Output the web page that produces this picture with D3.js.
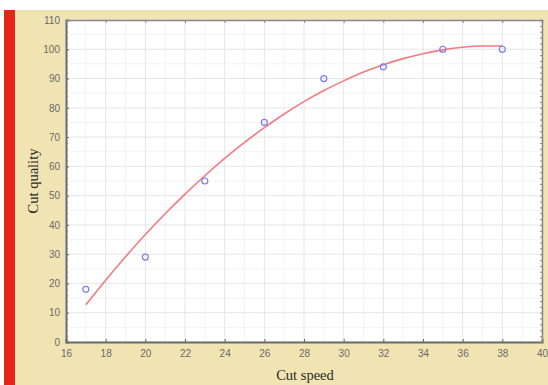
<!DOCTYPE html>
<html><head><meta charset="utf-8">
<script src="https://cdn.jsdelivr.net/npm/d3@7"></script>
<style>body{margin:0;background:#fff}svg{display:block}</style>
</head><body>
<svg id="c" width="548" height="385"></svg>
<script>
const speed = [17, 20, 23, 26, 29, 32, 35, 38];
const quality = [18, 29, 55, 75, 90, 94, 100, 100];
const fitX = [17,18,19,20,21,22,23,24,25,26,27,28,29,30,31,32,33,34,35,36,37,38];
const fitY = [12.7,21.1,29.1,36.7,43.8,50.5,56.8,62.7,68.2,73.2,77.9,82.1,85.9,89.2,92.2,94.7,96.8,98.5,99.8,100.7,101.1,101.1];
const xTicks = [16,18,20,22,24,26,28,30,32,34,36,38,40];
const yTicks = [0,10,20,30,40,50,60,70,80,90,100,110];

const svg = d3.select("#c");
svg.append("rect").attr("x",15).attr("y",10).attr("width",533).attr("height",375).attr("fill","#f1e4b3");
svg.append("rect").attr("x",4).attr("y",10).attr("width",11).attr("height",375).attr("fill","#ea2317");

const L=66,R=542,T=20,B=342;
const x = d3.scaleLinear().domain([16,40]).range([L,R]);
const y = d3.scaleLinear().domain([0,110]).range([B,T]);

svg.append("rect").attr("x",L).attr("y",T).attr("width",R-L).attr("height",B-T).attr("fill","#fff");

const g = svg.append("g");
g.selectAll(".gxm").data(d3.range(17,40,2)).join("line")
  .attr("x1",d=>x(d)).attr("x2",d=>x(d)).attr("y1",T).attr("y2",B).attr("stroke","#f3f3f3");
g.selectAll(".gym").data(d3.range(5,110,10)).join("line")
  .attr("y1",d=>y(d)).attr("y2",d=>y(d)).attr("x1",L).attr("x2",R).attr("stroke","#f3f3f3");
g.selectAll(".gx").data(xTicks).join("line")
  .attr("x1",d=>x(d)).attr("x2",d=>x(d)).attr("y1",T).attr("y2",B).attr("stroke","#e6e6e6");
g.selectAll(".gy").data(yTicks).join("line")
  .attr("y1",d=>y(d)).attr("y2",d=>y(d)).attr("x1",L).attr("x2",R).attr("stroke","#e6e6e6");

const xa = svg.append("g").attr("transform",`translate(0,${B})`)
  .call(d3.axisBottom(x).tickValues(xTicks).tickSize(-3).tickPadding(8));
const ya = svg.append("g").attr("transform",`translate(${L},0)`)
  .call(d3.axisLeft(y).tickValues(yTicks).tickSize(-3).tickPadding(6));
[xa,ya].forEach(a=>{
  a.select(".domain").attr("stroke","#6b6b6b").attr("stroke-width",2);
  a.selectAll(".tick line").attr("stroke","#666");
  a.selectAll("text").attr("fill","#6a6a6a").style("font-family","Liberation Sans, Arial, sans-serif").style("font-size","10px");
});
svg.append("g").attr("transform",`translate(${L},0)`)
  .call(d3.axisLeft(y).tickValues(d3.range(0,111,2)).tickSize(-2).tickFormat(""))
  .call(a=>{a.select(".domain").remove();a.selectAll("line").attr("stroke","#777");});
svg.append("g").attr("transform",`translate(${R},0)`)
  .call(d3.axisRight(y).tickValues(d3.range(0,111,2)).tickSize(-2).tickFormat(""))
  .call(a=>{a.select(".domain").attr("stroke","#888").attr("stroke-width",1.5);a.selectAll("line").attr("stroke","#888");});
svg.append("g").attr("transform",`translate(0,${T})`)
  .call(d3.axisTop(x).tickValues(xTicks).tickSize(-3).tickFormat(""))
  .call(a=>{a.select(".domain").attr("stroke","#888").attr("stroke-width",1.5);a.selectAll("line").attr("stroke","#888");});

const line = d3.line().x((d,i)=>x(fitX[i])).y((d,i)=>y(fitY[i])).curve(d3.curveMonotoneX);
svg.append("path").datum(fitY).attr("d",line).attr("fill","none").attr("stroke","#f27a80").attr("stroke-width",1.6);

svg.selectAll(".pt").data(speed).join("circle")
  .attr("cx",d=>x(d)).attr("cy",(d,i)=>y(quality[i])).attr("r",3)
  .attr("fill","none").attr("stroke","#7a7cf0").attr("stroke-width",1.2);

svg.append("text").attr("x",305).attr("y",380).attr("text-anchor","middle")
  .style("font-family","Liberation Serif, Times New Roman, serif").style("font-size","14.5px").attr("fill","#2a2a2a").text("Cut speed");
svg.append("text").attr("transform","translate(38,181) rotate(-90)").attr("text-anchor","middle")
  .style("font-family","Liberation Serif, Times New Roman, serif").style("font-size","14.5px").attr("fill","#2a2a2a").text("Cut quality");
</script>
</body></html>
